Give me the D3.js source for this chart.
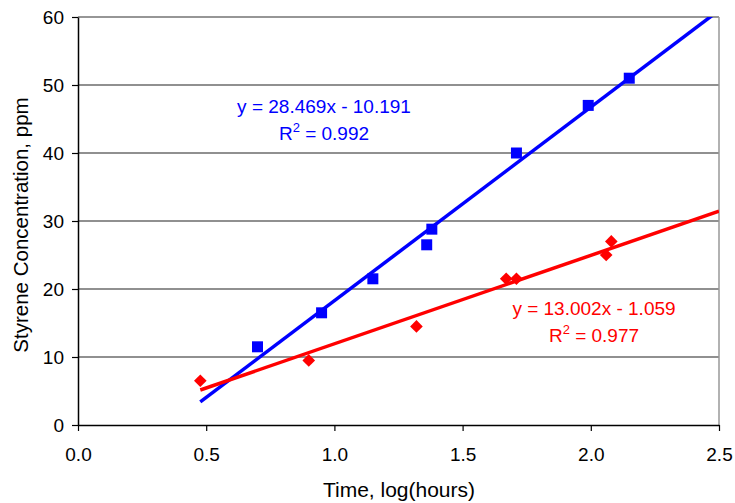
<!DOCTYPE html>
<html>
<head>
<meta charset="utf-8">
<script src="https://cdn.jsdelivr.net/npm/d3@7"></script>
<style>
  body { margin: 0; background: #fff; }
  text { font-family: "Liberation Sans", Arial, sans-serif; }
</style>
</head>
<body>
<div id="chart"></div>
<script>
(function(){
    // data -- log10(hours) vs styrene ppm
    var blueX = [0.70, 0.95, 1.15, 1.36, 1.38, 1.71, 1.99, 2.15];
    var blueY = [11.5, 16.5, 21.5, 26.5, 28.8, 40.0, 47.0, 51.0];
    var redX  = [0.477, 0.90, 1.32, 1.67, 1.71, 2.06, 2.08];
    var redY  = [6.5, 9.5, 14.5, 21.5, 21.5, 25.0, 27.0];

    var blueFit = { slope: 28.469, icept: -10.191, label: 'y = 28.469x - 10.191', r2: '0.992' };
    var redFit  = { slope: 13.002, icept: -1.059,  label: 'y = 13.002x - 1.059',  r2: '0.977' };
    var fitRange = [0.477, 2.5];

    var xTicks = [0, 0.5, 1, 1.5, 2, 2.5];
    var yTicks = [0, 10, 20, 30, 40, 50, 60];

    var WIDTH = 735, HEIGHT = 503;
    var margin = { top: 17, right: 16, bottom: 78, left: 78 };
    var w = WIDTH - margin.left - margin.right,
        h = HEIGHT - margin.top - margin.bottom;

    var svg = d3.select('#chart').append('svg')
        .attr('width', WIDTH)
        .attr('height', HEIGHT);

    var g = svg.append('g')
        .attr('transform', 'translate(' + margin.left + ',' + margin.top + ')');

    var x = d3.scaleLinear().domain([0, 2.5]).range([0, w]);
    var y = d3.scaleLinear().domain([0, 60]).range([h, 0]);

    // gridlines
    g.append('g').selectAll('line')
        .data(yTicks.slice(1))
        .enter().append('line')
        .attr('x1', 0).attr('x2', w)
        .attr('y1', function(d){ return y(d) }).attr('y2', function(d){ return y(d) })
        .attr('stroke', '#222').attr('stroke-width', 1.2);

    // plot area border (top / right)
    g.append('line').attr('x1', 0).attr('x2', w).attr('y1', 0).attr('y2', 0)
        .attr('stroke', '#999').attr('stroke-width', 1.5);
    g.append('line').attr('x1', w).attr('x2', w).attr('y1', 0).attr('y2', h)
        .attr('stroke', '#999').attr('stroke-width', 1.5);

    // axes
    var xAxis = g.append('g')
        .attr('transform', 'translate(0,' + h + ')')
        .call(d3.axisBottom(x).tickValues(xTicks).tickFormat(d3.format('.1f')).tickSize(6).tickSizeOuter(0));
    var yAxis = g.append('g')
        .call(d3.axisLeft(y).tickValues(yTicks).tickSize(6).tickSizeOuter(0));

    [xAxis, yAxis].forEach(function(a){
        a.select('.domain').attr('stroke', '#000').attr('stroke-width', 1.5);
        a.selectAll('.tick line').attr('stroke', '#000').attr('stroke-width', 1.2);
        a.selectAll('.tick text')
            .attr('fill', '#000')
            .style('font-family', '"Liberation Sans", Arial, sans-serif')
            .style('font-size', '19px');
    });
    xAxis.selectAll('.tick text').attr('y', 36).attr('dy', 0);
    yAxis.selectAll('.tick text').attr('x', -14).attr('dy', '0.35em');

    // axis titles
    svg.append('text')
        .attr('x', 399).attr('y', 497)
        .attr('text-anchor', 'middle')
        .style('font-size', '21px')
        .text('Time, log(hours)');
    svg.append('text')
        .attr('transform', 'translate(28,225) rotate(-90)')
        .attr('text-anchor', 'middle')
        .style('font-size', '20.5px')
        .text('Styrene Concentration, ppm');

    // clip for trendlines
    svg.append('clipPath').attr('id', 'plotclip')
        .append('rect').attr('width', w).attr('height', h);

    function fitLine(fit){
        return d3.line()
            .x(function(d){ return x(d) })
            .y(function(d){ return y(fit.slope * d + fit.icept) })(fitRange);
    }

    var lines = g.append('g').attr('clip-path', 'url(#plotclip)');
    lines.append('path').attr('d', fitLine(blueFit))
        .attr('fill', 'none').attr('stroke', '#0000ff').attr('stroke-width', 3.5);
    lines.append('path').attr('d', fitLine(redFit))
        .attr('fill', 'none').attr('stroke', '#ff0000').attr('stroke-width', 3.5);

    // markers
    var sq = d3.symbol().type(d3.symbolSquare).size(121);
    var dia = d3.symbol().type(d3.symbolSquare).size(80);

    g.append('g').selectAll('path')
        .data(blueX)
        .enter().append('path')
        .attr('d', sq)
        .attr('transform', function(d, i){ return 'translate(' + x(d) + ',' + y(blueY[i]) + ')' })
        .attr('fill', '#0000ff');

    g.append('g').selectAll('path')
        .data(redX)
        .enter().append('path')
        .attr('d', dia)
        .attr('transform', function(d, i){ return 'translate(' + x(d) + ',' + y(redY[i]) + ') rotate(45)' })
        .attr('fill', '#ff0000');

    // equation labels
    function eqLabel(fit, cx, cy, color){
        var t = svg.append('g').attr('fill', color).style('font-size', '19px');
        t.append('text').attr('x', cx).attr('y', cy).attr('text-anchor', 'middle').text(fit.label);
        var r = t.append('text').attr('x', cx).attr('y', cy + 27).attr('text-anchor', 'middle');
        r.append('tspan').text('R');
        r.append('tspan').attr('dy', -8).style('font-size', '13px').text('2');
        r.append('tspan').attr('dy', 8).text(' = ' + fit.r2);
    }
    eqLabel(blueFit, 324, 113, '#0000ff');
    eqLabel(redFit, 594, 315, '#ff0000');
})();
</script>
</body>
</html>
